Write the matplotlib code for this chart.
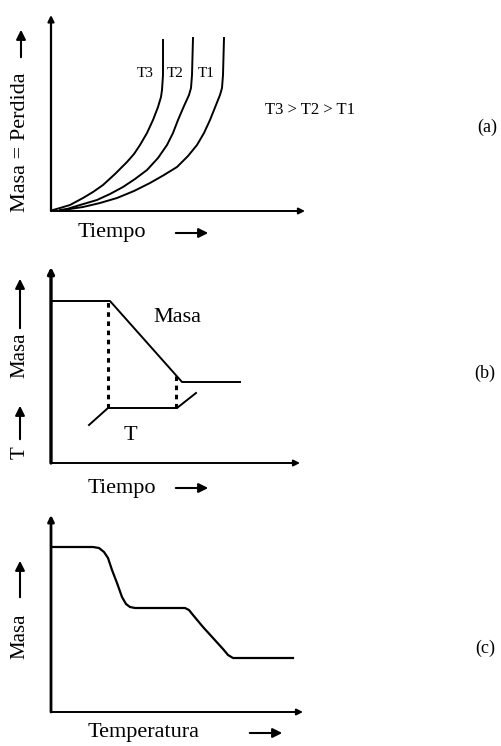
import matplotlib
matplotlib.use("Agg")
import matplotlib.pyplot as plt

plt.rcParams['font.family'] = ['Liberation Serif', 'DejaVu Serif']

# --- panel (a): mass loss vs time at three temperatures (arbitrary units)
t3_x = [0.2, 0.9, 1.9, 3.2, 4.2, 5.2, 6.4, 7.6, 8.3, 8.9, 9.6, 10.2, 10.7, 11.0, 11.1, 11.2, 11.2]
t3_y = [0.1, 0.3, 0.6, 1.3, 1.9, 2.6, 3.7, 4.9, 5.7, 6.6, 7.8, 9.1, 10.4, 11.4, 12.1, 13.6, 17.1]
t2_x = [0.9, 1.6, 2.9, 4.6, 5.9, 7.2, 8.4, 9.6, 10.7, 11.6, 12.2, 12.7, 13.3, 13.8, 14.0, 14.1, 14.2]
t2_y = [0.1, 0.2, 0.6, 1.1, 1.7, 2.4, 3.2, 4.1, 5.3, 6.6, 7.8, 9.1, 10.5, 11.6, 12.3, 13.6, 17.3]
t1_x = [1.2, 3.2, 4.9, 6.6, 8.3, 9.9, 11.3, 12.6, 13.7, 14.6, 15.3, 15.9, 16.5, 16.9, 17.1, 17.2, 17.3]
t1_y = [0.1, 0.4, 0.8, 1.3, 2.0, 2.8, 3.6, 4.4, 5.5, 6.6, 7.8, 9.1, 10.6, 11.6, 12.3, 13.6, 17.3]
curve_labels = ['T3', 'T2', 'T1']

# --- panel (b): isothermal mass and temperature program
masa_x = [0.0, 5.9, 13.1, 18.9]
masa_y = [16.2, 16.2, 8.1, 8.1]
temp_x = [3.8, 5.7, 12.6, 14.5]
temp_y = [3.8, 5.5, 5.5, 7.0]
guide_x = [5.7, 12.5]
guide_top = [16.2, 9.0]
guide_bottom = 5.5

# --- panel (c): mass vs temperature, two steps
tg_x = [0.0, 4.2, 4.8, 5.3, 5.7, 6.1, 6.6, 7.1, 7.5, 7.9, 8.4, 13.4, 13.8, 14.2, 15.2,
        16.2, 17.2, 17.7, 18.2, 24.2]
tg_y = [16.5, 16.5, 16.4, 16.0, 15.4, 14.2, 12.9, 11.5, 10.8, 10.5, 10.4, 10.4, 10.2,
        9.7, 8.5, 7.4, 6.3, 5.7, 5.4, 5.4]

W, H = 501, 746
fig = plt.figure(figsize=(W / 100, H / 100), dpi=100)


def fx(x, y):
    return x / W, 1 - y / H


def make_axes(x0, y0, x1, y1, xmax, ymax, ylw=1.6):
    ax = fig.add_axes([x0 / W, 1 - y0 / H, (x1 - x0) / W, (y0 - y1) / H])
    ax.set_xlim(0, xmax)
    ax.set_ylim(0, ymax)
    ax.set_axis_off()
    arrow = dict(arrowstyle='-|>', color='k', mutation_scale=9, shrinkA=0, shrinkB=0)
    ax.annotate('', xy=(1, 0), xytext=(0, 0), xycoords='axes fraction',
                arrowprops=dict(arrow, lw=1.4))
    ax.annotate('', xy=(0, 1), xytext=(0, 0), xycoords='axes fraction',
                arrowprops=dict(arrow, lw=ylw))
    return ax


def label_arrow(x0, y0, x1, y1):
    fig.add_artist(matplotlib.patches.FancyArrowPatch(
        fx(x0, y0), fx(x1, y1), transform=fig.transFigure,
        arrowstyle='-|>', mutation_scale=14, lw=1.5, color='k'))


# (a)
ax_a = make_axes(51, 211, 305, 15, 25.4, 19.6)
for xs, ys in [(t3_x, t3_y), (t2_x, t2_y), (t1_x, t1_y)]:
    ax_a.plot(xs, ys, color='k', lw=1.4, clip_on=False, solid_joinstyle='round')
for lab, xs in zip(curve_labels, [t3_x, t2_x, t1_x]):
    ax_a.text(xs[-1] - 0.9, 13.8, lab, ha='right', va='center', fontsize=11)

fig.text(*fx(21, 142), 'Masa = Perdida', rotation=90, ha='center', va='center', fontsize=16)
label_arrow(21, 60, 21, 27)
fig.text(*fx(78, 233), 'Tiempo', ha='left', va='center', fontsize=16)
label_arrow(173, 233, 211, 233)
fig.text(*fx(265, 110), 'T3 > T2 > T1', ha='left', va='center', fontsize=12)
fig.text(*fx(487, 127), '(a)', ha='center', va='center', fontsize=13)

# (b)
ax_b = make_axes(51, 463, 300, 267, 24.9, 19.6, ylw=2.4)
ax_b.plot(masa_x, masa_y, color='k', lw=1.4)
ax_b.plot(temp_x, temp_y, color='k', lw=1.4)
for gx, gt in zip(guide_x, guide_top):
    ax_b.plot([gx, gx], [guide_bottom, gt], color='k', lw=2.2, ls=(0, (1.5, 1.5)))
ax_b.text(10.2, 14.5, 'Masa', ha='left', va='center', fontsize=16)
ax_b.text(7.9, 2.8, 'T', ha='center', va='center', fontsize=16)

fig.text(*fx(20, 355), 'Masa', rotation=90, ha='center', va='center', fontsize=15)
label_arrow(20, 331, 20, 276)
fig.text(*fx(20, 453), 'T', rotation=90, ha='center', va='center', fontsize=15)
label_arrow(20, 442, 20, 403)
fig.text(*fx(88, 488), 'Tiempo', ha='left', va='center', fontsize=16)
label_arrow(173, 488, 211, 488)
fig.text(*fx(485, 373), '(b)', ha='center', va='center', fontsize=13)

# (c)
ax_c = make_axes(51, 712, 303, 515, 25.2, 19.7, ylw=2.0)
ax_c.plot(tg_x, tg_y, color='k', lw=1.6, solid_joinstyle='round')

fig.text(*fx(20, 636), 'Masa', rotation=90, ha='center', va='center', fontsize=15)
label_arrow(20, 600, 20, 558)
fig.text(*fx(88, 733), 'Temperatura', ha='left', va='center', fontsize=16)
label_arrow(247, 733, 285, 733)
fig.text(*fx(485, 648), '(c)', ha='center', va='center', fontsize=13)

fig.savefig('out.png', dpi=100, facecolor='white')
